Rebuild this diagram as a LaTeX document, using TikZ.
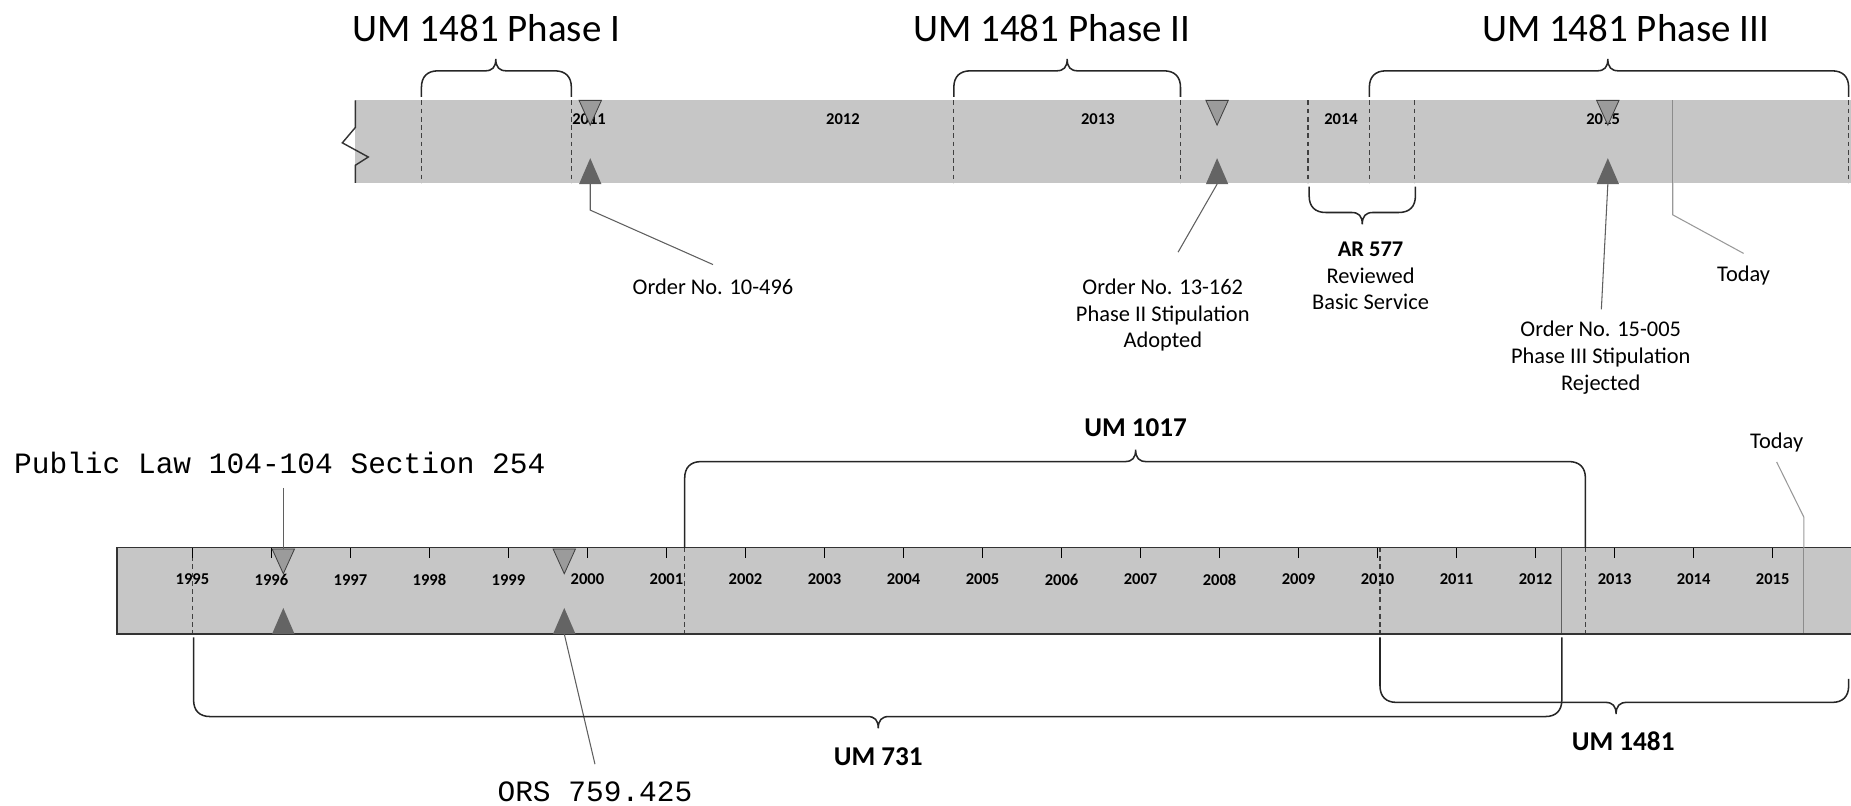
\documentclass[tikz,border=0pt]{standalone}
\usepackage{fontspec}
\setmainfont{Carlito}
\newfontfamily\lawfont{Liberation Mono}
\usepackage{tikz}
\usetikzlibrary{positioning,calc}
\definecolor{barfill}{RGB}{198,198,198}
\definecolor{tridown}{RGB}{155,155,155}
\definecolor{triup}{RGB}{100,100,100}
\definecolor{leadgray}{RGB}{95,95,95}
\tikzset{
  phasetitle/.style={font=\fontsize{33}{36}\selectfont,inner sep=0pt},
  annot/.style={font=\fontsize{19}{22.5}\selectfont,align=center,inner sep=0pt},
  bnote/.style={font=\fontsize{23}{26}\selectfont\bfseries,inner sep=0pt},
  law/.style={font=\lawfont\fontsize{25}{28}\selectfont,inner sep=0pt},
  yr/.style={font=\fontsize{14}{16}\selectfont\bfseries,inner sep=0pt},
  yearline/.style={draw=black!75,dash pattern=on 4pt off 3pt,line width=0.9pt},
  nowline/.style={draw=black!45,line width=0.9pt},
  rim/.style={draw=black!80,line width=1.2pt},
  yeartick/.style={draw=black,line width=1.4pt},
  spanline/.style={draw=black!85,line width=1.3pt},
  leader/.style={draw=leadgray,line width=0.9pt},
  leaderlight/.style={draw=black!40,line width=0.9pt},
  downmark/.pic={\filldraw[fill=tridown,draw=black!75,line width=0.7pt] (-9.5,0) -- (9.5,0) -- (0,21) -- cycle;},
  upmark/.pic={\fill[triup] (-9.5,0) -- (9.5,0) -- (0,-22) -- cycle;},
}
% x-left, x-right, tip x, left arm end y, right arm end y, line y, sign (1 = tip down)
\newcommand\spanbrace[7]{%
  \draw[spanline] ({#1},{#4}) -- ({#1},{#6-14*#7}) .. controls ({#1},{#6-5*#7}) and ({#1+5},{#6}) .. ({#1+14},{#6})
    -- ({#3-9},{#6}) .. controls ({#3-3},{#6}) and ({#3},{#6+3*#7}) .. ({#3},{#6+10*#7})
    .. controls ({#3},{#6+3*#7}) and ({#3+3},{#6}) .. ({#3+9},{#6})
    -- ({#2-14},{#6}) .. controls ({#2-5},{#6}) and ({#2},{#6-5*#7}) .. ({#2},{#6-14*#7}) -- ({#2},{#5});}

\begin{document}
\begin{tikzpicture}[x=1pt,y=-1pt]
  \useasboundingbox (0,0) rectangle (1568,682);

  % upper time line
  \fill[barfill] (301,85) rectangle (1568,155);
  \foreach \x in {357,484,808,1000,1108,1160,1198,1566}
    \draw[yearline] (\x,85) -- (\x,155);
  \draw[nowline] (1417,85) -- (1417,155);
  \draw[rim] (301,85) -- (301,108) -- (290,121) -- (312,133) -- (301,140) -- (301,155);
  \foreach \x/\yr in {499/2011,714/2012,930/2013,1136/2014,1358/2015}
    \node[yr] (up\yr) at (\x,101) {\yr};
  \foreach \x in {500,1031,1362} {
    \pic at (\x,85) {downmark};
    \pic at (\x,156) {upmark};
  }
  \coordinate (o1) at (500,156);
  \coordinate (o2) at (1031,156);
  \coordinate (o3) at (1362,156);
  \coordinate (now1) at (1417,155);

  \node[phasetitle] (ph1) at (412,24) {UM 1481 Phase I};
  \node[phasetitle] (ph2) at (891,24) {UM 1481 Phase II};
  \node[phasetitle] (ph3) at (1377,24) {UM 1481 Phase III};
  \spanbrace{357}{484}{420}{82}{82}{60}{-1}
  \spanbrace{808}{1000}{904}{82}{82}{60}{-1}
  \spanbrace{1160}{1566}{1362}{82}{82}{60}{-1}
  \spanbrace{1109}{1199}{1154}{158}{158}{180}{1}

  \node[annot] (ord1) at (604,243) {Order No. 10-496};
  \node[annot] (ord2) at (985,267) {Order No. 13-162\\Phase II Stipulation\\Adopted};
  \node[annot] (ar577) at (1161,234) {\textbf{AR 577}\\Reviewed\\Basic Service};
  \node[annot] (ord3) at (1356,303) {Order No. 15-005\\Phase III Stipulation\\Rejected};
  \node[annot] (today1) at (1477,233) {Today};
  \draw[leader] (o1) -- ++(0,22) -- ([yshift=12pt]ord1.north);
  \draw[leader,shorten >=26pt] (o2) -- (ord2.north);
  \draw[leader,shorten >=10pt] (o3) -- (ord3.north);
  \draw[leaderlight] (now1) -- ++(0,27) -- ([yshift=10pt]today1.north);

  % lower time line
  \fill[barfill] (99,464) rectangle (1568,537);
  \foreach \x in {163,580,1169,1343}
    \draw[yearline] (\x,464) -- (\x,537);
  \draw[leader] (1323,464) -- (1323,537);
  \draw[nowline] (1528,464) -- (1528,537);
  \foreach \yr [count=\i from 0] in {1995,...,2015} {
    \draw[yeartick] ({163+66.93*\i},464) -- ++(0,9);
    \node[yr] (low\yr) at ({163+66.93*\i},491) {\yr};
  }
  \draw[rim] (1568,464) -- (99,464) -- (99,537) -- (1568,537);
  \foreach \x in {240,478} {
    \pic at (\x,465) {downmark};
    \pic at (\x,537) {upmark};
  }
  \coordinate (p1) at (240,465);
  \coordinate (p2) at (478,537);
  \coordinate (now2) at (1528,464);

  \node[law] (plaw) at (237,392) {Public Law 104-104 Section 254};
  \node[law] (ors) at (504,671) {ORS 759.425};
  \draw[leader] ([yshift=-12pt]plaw.south -| p1) -- (p1);
  \draw[leader] (p2) -- ([yshift=15pt]ors.north);

  \node[bnote] (um1017) at (962,362) {UM 1017};
  \node[bnote] (um731) at (744,641) {UM 731};
  \node[bnote] (um1481) at (1375,628) {UM 1481};
  \spanbrace{580}{1343}{962}{464}{464}{391}{-1}
  \spanbrace{164}{1323}{744}{540}{540}{607}{1}
  \spanbrace{1169}{1566}{1369}{540}{575}{595}{1}

  \node[annot] (today2) at (1505,375) {Today};
  \draw[leaderlight] ([yshift=-8pt]today2.south) -- (1528,438) -- (now2);
\end{tikzpicture}
\end{document}
